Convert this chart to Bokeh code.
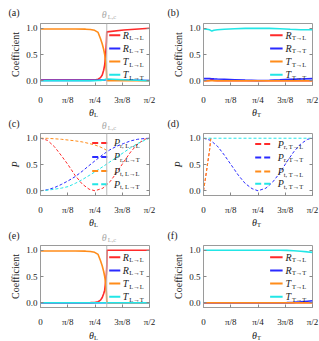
import numpy as np
from bokeh.plotting import figure
from bokeh.models import Range1d, FixedTicker, Span, Label, LinearAxis
from bokeh.layouts import column, row
from bokeh.embed import file_html
from bokeh.resources import INLINE
from bokeh.core.properties import value

PI = np.pi
X_TICKS = [0, PI / 8, PI / 4, 3 * PI / 8, PI / 2]
X_TICK_LABELS = ["0", "π/8", "π/4", "3π/8", "π/2"]
Y_TICKS = [0, 0.5, 1]
Y_TICK_LABELS = ["0.0", "0.5", "1.0"]
THETA_C = 0.955

# ---- panel (a): incidence of L wave ----
th_a = [0, 0.3, 0.5, 0.65, 0.72, 0.78, 0.83, 0.865, 0.89, 0.91, 0.925, 0.94, 0.95, 0.955, 0.958, 1.2, 1.571]
a_R_LL = [0.012, 0.012, 0.012, 0.012, 0.013, 0.016, 0.03, 0.06, 0.11, 0.2, 0.3, 0.52, 0.75, 0.93, 0.93, 0.965, 1.0]
a_R_LT = [0.008, 0.008, 0.008, 0.008, 0.008, 0.009, 0.01, 0.012, 0.013, 0.015, 0.016, 0.018, 0.02, 0.02, 0.02, 0.014, 0.005]
a_T_LL = [0.985, 0.985, 0.985, 0.982, 0.975, 0.96, 0.92, 0.8, 0.7, 0.6, 0.5, 0.35, 0.18, 0.03, 0.0, 0.0, 0.0]
a_T_LT = [0.0, 0.0, 0.0, 0.0, 0.001, 0.002, 0.004, 0.008, 0.012, 0.017, 0.022, 0.028, 0.032, 0.035, 0.035, 0.02, 0.0]

# ---- panel (b): incidence of T wave ----
th_b = [0, 0.05, 0.09, 0.12, 0.15, 0.2, 0.3, 0.45, 0.6, 0.785, 0.95, 1.1, 1.25, 1.4, 1.571]
b_R_TL = [0.0, 0.0, 0.004, 0.025, 0.004, 0.0, 0.0, 0.0, 0.0, 0.0, 0.0, 0.0, 0.0, 0.0, 0.0]
b_R_TT = [0.04, 0.04, 0.04, 0.038, 0.036, 0.033, 0.028, 0.02, 0.012, 0.006, 0.01, 0.018, 0.027, 0.035, 0.04]
b_T_TL = [0.0, 0.0, 0.0, 0.0, 0.0, 0.0, 0.0, 0.0, 0.0, 0.0, 0.0, 0.0, 0.0, 0.0, 0.0]
b_T_TT = [0.985, 0.98, 0.97, 0.945, 0.96, 0.97, 0.98, 0.99, 0.997, 1.0, 0.997, 0.99, 0.98, 0.972, 0.97]

# ---- panel (c): polarization, L incidence ----
th_c = [0, 0.1, 0.2, 0.3, 0.4, 0.5, 0.6, 0.7, 0.785, 0.9, 1.0, 1.1, 1.2, 1.3, 1.4, 1.5, 1.571]
c_Pr_LL = [1.0, 0.96, 0.84, 0.67, 0.49, 0.29, 0.13, 0.03, 0.0, 0.05, 0.17, 0.35, 0.55, 0.74, 0.89, 0.98, 1.0]
c_Pr_LT = [0.0, 0.02, 0.06, 0.12, 0.19, 0.27, 0.37, 0.48, 0.57, 0.69, 0.78, 0.85, 0.9, 0.95, 0.98, 0.995, 1.0]
th_c_t = [0, 0.1, 0.2, 0.3, 0.4, 0.5, 0.6, 0.7, 0.785, 0.85, 0.9, 0.955]
c_Pt_LL = [1.0, 0.998, 0.99, 0.98, 0.965, 0.95, 0.93, 0.9, 0.87, 0.84, 0.81, 0.77]
c_Pt_LT = [0.0, 0.01, 0.03, 0.05, 0.08, 0.14, 0.21, 0.29, 0.36, 0.46, 0.55, 0.64, 0.73, 0.82, 0.9, 0.96, 1.0]

# ---- panel (d): polarization, T incidence ----
th_d_s = [0, 0.03, 0.06, 0.09, 0.105]
d_Pr_TL = [0.0, 0.25, 0.52, 0.8, 1.0]
d_Pt_TL = [0.0, 0.26, 0.53, 0.8, 1.0]
th_d = [0, 0.1, 0.2, 0.3, 0.4, 0.5, 0.6, 0.7, 0.785, 0.9, 1.0, 1.1, 1.2, 1.3, 1.4, 1.5, 1.571]
d_Pr_TT = [1.0, 0.96, 0.85, 0.68, 0.49, 0.3, 0.14, 0.04, 0.0, 0.05, 0.17, 0.34, 0.55, 0.74, 0.89, 0.98, 1.0]
th_d_full = [0, 1.571]
d_Pt_TT = [1.0, 1.0]

# ---- panel (e) ----
th_e = [0, 0.3, 0.5, 0.65, 0.72, 0.78, 0.83, 0.865, 0.89, 0.91, 0.925, 0.94, 0.95, 0.955, 0.958, 1.2, 1.571]
e_R_LL = [0.0, 0.0, 0.0, 0.0, 0.002, 0.006, 0.02, 0.05, 0.1, 0.17, 0.24, 0.42, 0.55, 0.7, 1.0, 1.0, 1.0]
e_R_LT = [0.0] * 17
e_T_LL = [0.985, 0.985, 0.985, 0.982, 0.975, 0.96, 0.92, 0.8, 0.7, 0.6, 0.5, 0.35, 0.18, 0.03, 0.0, 0.0, 0.0]
e_T_LT = [0.0] * 17

# ---- panel (f) ----
th_f = [0, 0.3, 0.6, 0.9, 1.1, 1.2, 1.3, 1.4, 1.5, 1.571]
f_R_TL = [0.0] * 10
f_R_TT = [0.0, 0.0, 0.0, 0.0, 0.0, 0.002, 0.008, 0.018, 0.03, 0.038]
f_T_TL = [0.0] * 10
f_T_TT = [1.0, 1.0, 1.0, 1.0, 1.0, 0.998, 0.99, 0.98, 0.968, 0.96]

RED, BLUE, ORANGE, CYAN = "#ff2a2a", "#2a2aff", "#ff8c1a", "#22e6e6"
FRAME = "#9a9a9a"
GRAY = "#a8a8a8"
INK = "#222222"
FONT = "Liberation Serif"

# layout (pixels)
W = [160, 159]
BL = [40, 43]
BR = [11, 7]
FRAME_W = 109
P_H = 85          # panel figure height: 1 + 65 frame + 19 bottom
P_TOP, P_BOT = 1, 19
STRIP_H = [22, 25, 27, 12]
K = (PI / 2) / FRAME_W
Y0, Y1 = -0.09, 1.09


def lab(p, x, y, s, dx=0, dy=0, size=9, color=INK, style="normal", align="left", base="middle"):
    p.add_layout(Label(x=x, y=y, x_offset=dx, y_offset=dy, text=s, text_font=FONT,
                       text_font_size=f"{size}px", text_color=color, text_font_style=style,
                       text_align=align, text_baseline=base))


def panel(col, ylabel, yitalic):
    p = figure(width=W[col], height=P_H, x_range=Range1d(0, PI / 2), y_range=Range1d(Y0, Y1),
               output_backend="svg", toolbar_location=None, tools="")
    p.min_border_left = BL[col]
    p.min_border_right = BR[col]
    p.min_border_top = P_TOP
    p.min_border_bottom = P_BOT
    p.xgrid.visible = False
    p.ygrid.visible = False
    p.outline_line_color = FRAME
    p.outline_line_width = 1
    p.background_fill_color = "white"
    p.border_fill_color = "white"
    for ax in (p.xaxis[0], p.yaxis[0]):
        ax.axis_line_color = FRAME
        ax.major_tick_line_color = "#888888"
        ax.major_tick_in = 3
        ax.major_tick_out = 0
        ax.minor_tick_line_color = None
        ax.major_label_text_font = FONT
        ax.major_label_text_font_size = "9px"
        ax.major_label_text_color = INK
    p.xaxis.ticker = FixedTicker(ticks=X_TICKS)
    p.xaxis.major_label_overrides = dict(zip(X_TICKS, X_TICK_LABELS))
    p.xaxis.major_label_standoff = 9
    p.yaxis.ticker = FixedTicker(ticks=Y_TICKS)
    p.yaxis.major_label_overrides = dict(zip(Y_TICKS, Y_TICK_LABELS))
    p.yaxis.major_label_standoff = 3
    p.yaxis.axis_label = ylabel
    p.yaxis.axis_label_text_font = FONT
    p.yaxis.axis_label_text_font_size = "10px"
    p.yaxis.axis_label_text_font_style = "italic" if yitalic else "normal"
    p.yaxis.axis_label_text_color = INK
    p.yaxis.axis_label_standoff = 2
    ax = LinearAxis(ticker=FixedTicker(ticks=Y_TICKS),
                    major_label_overrides={t: "" for t in Y_TICKS},
                    major_label_standoff=0, major_tick_in=3, major_tick_out=0,
                    major_tick_line_color="#888888", minor_tick_line_color=None,
                    axis_line_color=None)
    p.add_layout(ax, "right")
    return p


def strip(col, h):
    s = figure(width=W[col], height=h,
               x_range=Range1d(-BL[col] * K, (W[col] - BL[col]) * K),
               y_range=Range1d(h, 0), output_backend="svg", toolbar_location=None,
               tools="", x_axis_location=None, y_axis_location=None, min_border=0)
    s.min_border_left = s.min_border_right = s.min_border_top = s.min_border_bottom = 0
    s.xgrid.visible = False
    s.ygrid.visible = False
    s.outline_line_color = None
    s.background_fill_color = "white"
    s.border_fill_color = "white"
    return s


def stext(s, x, y, t, dx=0, size=10, color=INK, italic=False, align="left"):
    s.text(x=[x], y=[y], text=[t], x_offset=dx, text_font=value(FONT),
           text_font_size=value(f"{size}px"), text_color=color,
           text_font_style=value("italic" if italic else "normal"),
           text_align=align, text_baseline="middle")


def tag(s, col, y, t):
    stext(s, 0, y, t, dx=-(BL[col] - 8) if col == 0 else -36, size=10)


def crit_label(s, y):
    stext(s, THETA_C, y, "θ", dx=0, size=10, color=GRAY, italic=True, align="right")
    stext(s, THETA_C, y + 2, "L,c", dx=1, size=6.5, color=GRAY)


def xlabel(s, y, sub):
    stext(s, PI / 4, y, "θ", dx=-1, size=10, italic=True, align="right")
    stext(s, PI / 4, y + 2, sub, dx=-1, size=6.5)


def crit(p):
    p.add_layout(Span(location=THETA_C, dimension="height", line_color="#b8b8b8", line_width=1))


def legend(p, ys, x0, x1, xt, colors, mains, subs, dash, sdx):
    for y, c, m, s in zip(ys, colors, mains, subs):
        p.segment(x0=[x0], y0=[y], x1=[x1], y1=[y], line_color=c, line_width=2, line_dash=dash)
        lab(p, xt, y, m, size=10, style="italic")
        lab(p, xt, y, s, dx=sdx, dy=-2.5, size=6.5)


COLS = [RED, BLUE, ORANGE, CYAN]
LEG_Y_SOLID = [0.865, 0.615, 0.365, 0.115]

# (a)
pa = panel(0, "Coefficient", False)
for y, c in zip([a_R_LL, a_R_LT, a_T_LL, a_T_LT], COLS):
    pa.line(th_a, y, line_color=c, line_width=1.6)
crit(pa)
legend(pa, LEG_Y_SOLID, 0.99, 1.15, 1.185, COLS, ["R", "R", "T", "T"],
       ["L→L", "L→T", "L→L", "L→T"], "solid", 6.5)

# (b)
pb = panel(1, "Coefficient", False)
for y, c in zip([b_R_TL, b_R_TT, b_T_TL, b_T_TT], COLS):
    pb.line(th_b, y, line_color=c, line_width=1.6)
legend(pb, LEG_Y_SOLID, 0.96, 1.14, 1.18, COLS, ["R", "R", "T", "T"],
       ["T→L", "T→T", "T→L", "T→T"], "solid", 6.5)

# (c)
pc = panel(0, "P", True)
pc.line(th_c, c_Pr_LL, line_color=RED, line_width=1, line_dash="3 2")
pc.line(th_c, c_Pr_LT, line_color=BLUE, line_width=1, line_dash="3 2")
pc.line(th_c_t, c_Pt_LL, line_color=ORANGE, line_width=1, line_dash="3 2")
pc.line(th_c, c_Pt_LT, line_color=CYAN, line_width=1, line_dash="3 2")
crit(pc)
legend(pc, [0.91, 0.645, 0.375, 0.125], 0.745, 0.965, 1.06, COLS, ["P"] * 4,
       ["r, L→L", "r, L→T", "t, L→L", "t, L→T"], "6 3", 6)

# (d)
pd_ = panel(1, "P", True)
pd_.line(th_d_s, d_Pr_TL, line_color=RED, line_width=1, line_dash="3 2")
pd_.line(th_d, d_Pr_TT, line_color=BLUE, line_width=1, line_dash="3 2")
pd_.line(th_d_s, d_Pt_TL, line_color=ORANGE, line_width=1, line_dash="3 2")
pd_.line(th_d_full, d_Pt_TT, line_color=CYAN, line_width=1, line_dash="3 2")
legend(pd_, [0.89, 0.635, 0.365, 0.135], 0.745, 0.965, 1.07, COLS, ["P"] * 4,
       ["r, T→L", "r, T→T", "t, T→L", "t, T→T"], "6 3", 6)

# (e)
pe = panel(0, "Coefficient", False)
for y, c in zip([e_R_LL, e_R_LT, e_T_LL, e_T_LT], COLS):
    pe.line(th_e, y, line_color=c, line_width=1.6)
crit(pe)
legend(pe, LEG_Y_SOLID, 0.99, 1.15, 1.185, COLS, ["R", "R", "T", "T"],
       ["L→L", "L→T", "L→L", "L→T"], "solid", 6.5)

# (f)
pf = panel(1, "Coefficient", False)
for y, c in zip([f_R_TL, f_R_TT, f_T_TL, f_T_TT], COLS):
    pf.line(th_f, y, line_color=c, line_width=1.6)
legend(pf, LEG_Y_SOLID, 0.96, 1.14, 1.18, COLS, ["R", "R", "T", "T"],
       ["T→L", "T→T", "T→L", "T→T"], "solid", 6.5)

# text strips between panel rows
s0a, s0b = strip(0, STRIP_H[0]), strip(1, STRIP_H[0])
tag(s0a, 0, 12, "(a)")
crit_label(s0a, 14)
tag(s0b, 1, 12, "(b)")

s1a, s1b = strip(0, STRIP_H[1]), strip(1, STRIP_H[1])
xlabel(s1a, 4.5, "L")
tag(s1a, 0, 16, "(c)")
crit_label(s1a, 18)
xlabel(s1b, 4.5, "T")
tag(s1b, 1, 16, "(d)")

s2a, s2b = strip(0, STRIP_H[2]), strip(1, STRIP_H[2])
xlabel(s2a, 4.5, "L")
tag(s2a, 0, 18, "(e)")
crit_label(s2a, 20)
xlabel(s2b, 4.5, "T")
tag(s2b, 1, 18, "(f)")

s3a, s3b = strip(0, STRIP_H[3]), strip(1, STRIP_H[3])
xlabel(s3a, 5.5, "L")
xlabel(s3b, 5.5, "T")

layout = column(row(s0a, s0b), row(pa, pb), row(s1a, s1b), row(pc, pd_),
                row(s2a, s2b), row(pe, pf), row(s3a, s3b))
open("out.html", "w").write(file_html(layout, INLINE))
